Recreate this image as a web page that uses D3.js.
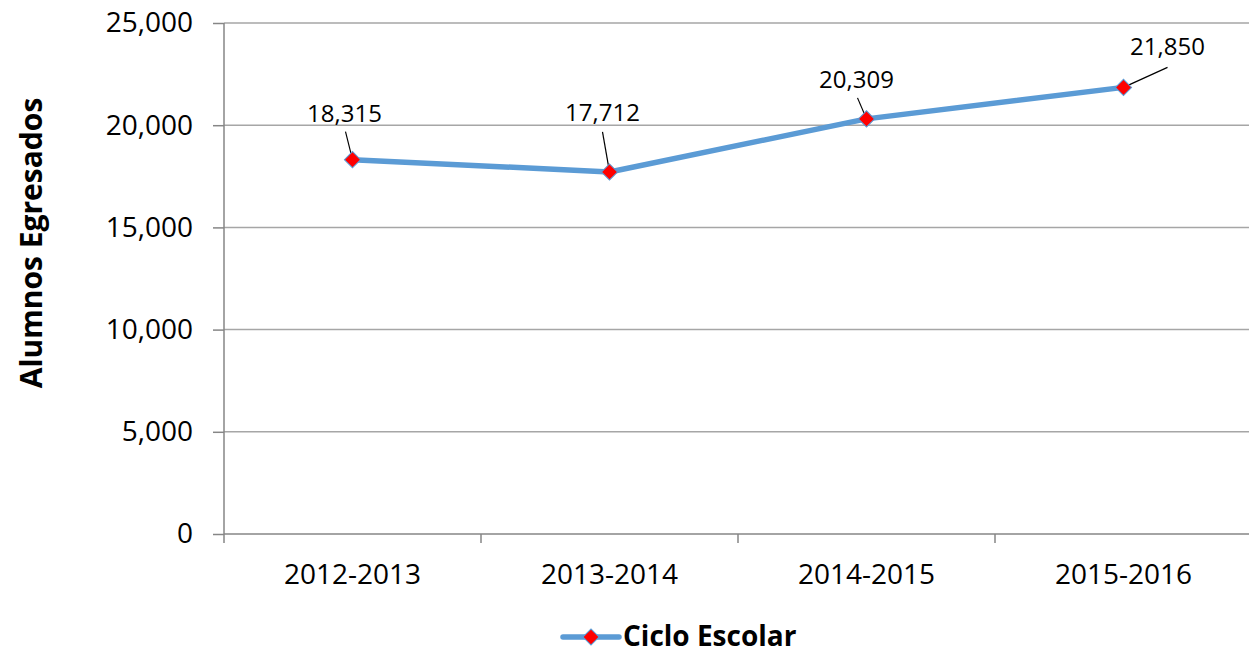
<!DOCTYPE html>
<html>
<head>
<meta charset="utf-8">
<script src="https://cdn.jsdelivr.net/npm/d3@7"></script>
<style>
  html, body { margin: 0; padding: 0; background: #fff; }
  svg { display: block; font-family: "Open Sans", sans-serif; }
</style>
</head>
<body>
<div id="chart"></div>
<script>
// datos
const ciclos = ["2012-2013", "2013-2014", "2014-2015", "2015-2016"];
const egresados = [18315, 17712, 20309, 21850];
const yTicks = [0, 5000, 10000, 15000, 20000, 25000];
// posicion de etiquetas respecto al punto (dx, dy) y del inicio de la guia
const labelOffsets = [[-8, -38], [-7, -51], [-10, -31], [44, -32]];
const leaderOffsets = [[-7, -28], [-7, -40], [-9, -21], [44, -20]];

const width = 1249, height = 655;
const mLeft = 224, mTop = 23, plotH = 511, plotW = 1028;

const svg = d3.select("#chart").append("svg")
    .attr("width", width)
    .attr("height", height);

const x = d3.scaleBand().domain(ciclos).range([mLeft, mLeft + plotW]);
const y = d3.scaleLinear().domain([0, 25000]).range([mTop + plotH, mTop]);
const fmt = d3.format(",");

// lineas de cuadricula
svg.append("g")
   .selectAll("line")
   .data(yTicks.filter(d => d > 0))
   .enter().append("line")
   .attr("x1", mLeft).attr("x2", mLeft + plotW)
   .attr("y1", d => y(d)).attr("y2", d => y(d))
   .style("stroke", "#a6a6a6")
   .style("stroke-width", 1.5);

// eje Y
const yAxis = svg.append("g")
   .attr("transform", `translate(${mLeft},0)`)
   .call(d3.axisLeft(y).tickValues(yTicks).tickSize(11).tickPadding(20).tickFormat(fmt));
yAxis.selectAll("line, path").style("stroke", "#868686").style("stroke-width", 1.5);
yAxis.select("path").attr("d", `M0,${mTop + plotH}V${mTop}`);
yAxis.selectAll("text").style("font-size", "28px").style("fill", "#000")
     .style("font-family", "'Open Sans', sans-serif");

// eje X
const xAxis = svg.append("g")
   .attr("transform", `translate(0,${mTop + plotH})`)
   .call(d3.axisBottom(x).tickSize(0).tickPadding(0));
xAxis.select("path").attr("d", `M${mLeft},0H${mLeft + plotW}`)
     .style("stroke", "#868686").style("stroke-width", 1.5);
xAxis.selectAll(".tick line").remove();
xAxis.selectAll("text").attr("y", 50).attr("dy", 0)
     .style("font-size", "28px").style("fill", "#000")
     .style("font-family", "'Open Sans', sans-serif");
// marcas entre categorias
xAxis.selectAll(".sep")
     .data(ciclos.concat(["fin"]))
     .enter().append("line")
     .attr("class", "sep")
     .attr("x1", (d, i) => mLeft + i * x.bandwidth())
     .attr("x2", (d, i) => mLeft + i * x.bandwidth())
     .attr("y1", 0).attr("y2", 9)
     .style("stroke", "#868686").style("stroke-width", 1.5);

const cx = d => x(d) + x.bandwidth() / 2;

// linea de la serie
const line = d3.line()
    .x((d, i) => cx(ciclos[i]))
    .y(d => y(d));
svg.append("path")
   .datum(egresados)
   .attr("d", line)
   .style("fill", "none")
   .style("stroke", "#5b9bd5")
   .style("stroke-width", 5.5)
   .style("stroke-linejoin", "round");

// lineas guia de etiquetas
svg.append("g").selectAll("line")
   .data(egresados)
   .enter().append("line")
   .attr("x1", (d, i) => cx(ciclos[i]) + leaderOffsets[i][0])
   .attr("y1", (d, i) => y(d) + leaderOffsets[i][1])
   .attr("x2", (d, i) => cx(ciclos[i]))
   .attr("y2", d => y(d))
   .style("stroke", "#000")
   .style("stroke-width", 1.2);

// marcadores en rombo
const diamond = d3.symbol().type(d3.symbolSquare).size(130);
svg.append("g").selectAll("path")
   .data(egresados)
   .enter().append("path")
   .attr("d", diamond)
   .attr("transform", (d, i) => `translate(${cx(ciclos[i])},${y(d)}) rotate(45)`)
   .style("fill", "#ff0000")
   .style("stroke", "#5b9bd5")
   .style("stroke-width", 1);

// etiquetas de datos
svg.append("g").selectAll("text")
   .data(egresados)
   .enter().append("text")
   .attr("x", (d, i) => cx(ciclos[i]) + labelOffsets[i][0])
   .attr("y", (d, i) => y(d) + labelOffsets[i][1])
   .attr("text-anchor", "middle")
   .style("font-size", "24px")
   .style("fill", "#000")
   .text(d => fmt(d));

// titulo eje Y
svg.append("text")
   .attr("transform", "translate(42,243) rotate(-90)")
   .attr("text-anchor", "middle")
   .style("font-size", "30px")
   .style("font-weight", "bold")
   .text("Alumnos Egresados");

// leyenda
const lg = svg.append("g");
lg.append("line")
  .attr("x1", 563).attr("x2", 619).attr("y1", 637).attr("y2", 637)
  .style("stroke", "#5b9bd5").style("stroke-width", 5.5).style("stroke-linecap", "round");
lg.append("path")
  .attr("d", diamond)
  .attr("transform", "translate(591,637) rotate(45)")
  .style("fill", "#ff0000").style("stroke", "#5b9bd5").style("stroke-width", 1);
lg.append("text")
  .attr("x", 623).attr("y", 646)
  .style("font-size", "28px")
  .style("font-weight", "bold")
  .text("Ciclo Escolar");
</script>
</body>
</html>
